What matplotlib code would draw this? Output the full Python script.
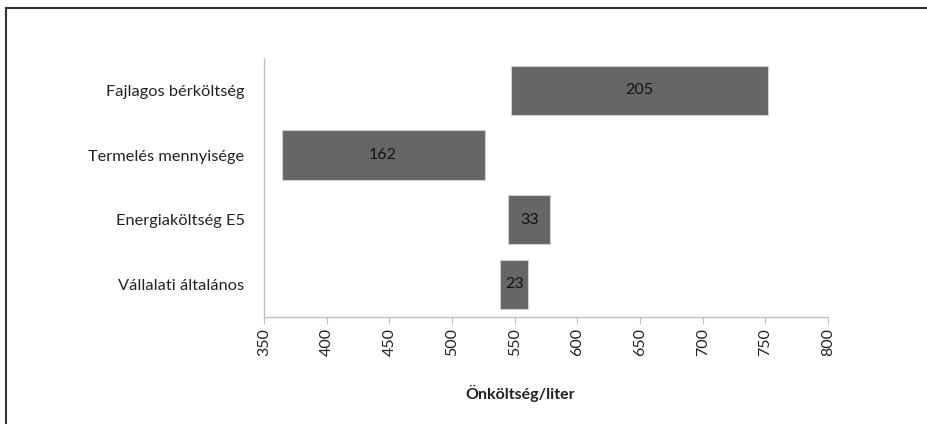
import matplotlib.pyplot as plt
from matplotlib.lines import Line2D

categories = ['Vállalati általános', 'Energiaköltség E5', 'Termelés mennyisége', 'Fajlagos bérköltség']
starts = [538, 545, 364, 547]
widths = [23, 33, 162, 205]
ticks = list(range(350, 801, 50))

plt.rcParams['font.family'] = ['Lato', 'DejaVu Sans']

fig = plt.figure(figsize=(9.27, 4.24), dpi=100)
ax = fig.add_axes([0.2848, 0.2531, 0.6084, 0.6101])

ypos = range(len(categories))
bars = ax.barh(ypos, widths, left=starts, height=0.76,
               color='#666666', edgecolor='#d0d0d0', linewidth=0.8)
for y, s, w in zip(ypos, starts, widths):
    ax.text(s + w / 2, y, str(w), ha='center', va='center', fontsize=11.5, color='#111111')

ax.set_xlim(350, 800)
ax.set_ylim(-0.5, 3.5)
ax.set_xticks(ticks)
ax.set_xticklabels([str(t) for t in ticks], rotation=90, fontsize=11.5, color='#222222')
ax.set_yticks(list(ypos))
ax.set_yticklabels(categories, fontsize=11.8, color='#222222')
ax.tick_params(axis='y', length=0, pad=14)
ax.tick_params(axis='x', length=5, color='#bfbfbf', pad=3)
for sp in ['top', 'right']:
    ax.spines[sp].set_visible(False)
for sp in ['left', 'bottom']:
    ax.spines[sp].set_color('#bfbfbf')
    ax.spines[sp].set_linewidth(1.0)

fig.text(520 / 927, 1 - 393 / 424, 'Önköltség/liter', ha='center', va='center',
         fontsize=11.5, fontweight='bold', color='#222222')

# outer frame (top and left only)
fig.add_artist(Line2D([6 / 927, 1], [1 - 8 / 424, 1 - 8 / 424], transform=fig.transFigure, color='#333333', lw=1.5))
fig.add_artist(Line2D([6 / 927, 6 / 927], [0, 1 - 8 / 424], transform=fig.transFigure, color='#333333', lw=1.5))

fig.savefig('out.png', dpi=100)
